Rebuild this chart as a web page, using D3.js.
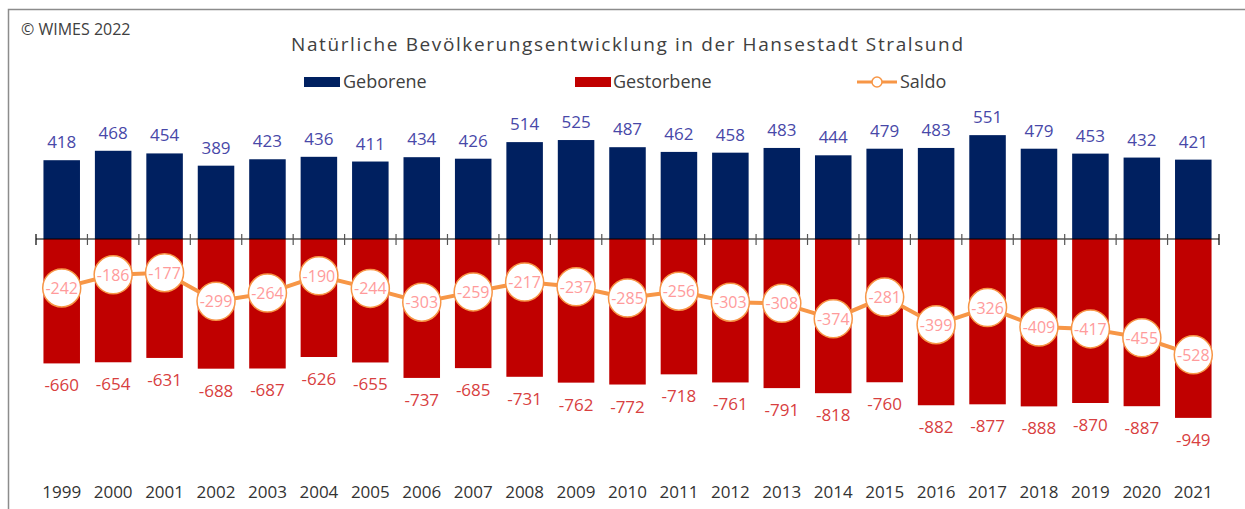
<!DOCTYPE html>
<html>
<head>
<meta charset="utf-8">
<script src="https://cdn.jsdelivr.net/npm/d3@7"></script>
<style>
  body { margin: 0; background: #fff; }
  text { font-family: "Open Sans", sans-serif; }
</style>
</head>
<body>
<div id="chart"></div>
<script>
// Natürliche Bevölkerungsentwicklung Stralsund

const years = ["1999","2000","2001","2002","2003","2004","2005","2006","2007","2008","2009","2010",
               "2011","2012","2013","2014","2015","2016","2017","2018","2019","2020","2021"];
const geborene = [418,468,454,389,423,436,411,434,426,514,525,487,462,458,483,444,479,483,551,479,453,432,421];
const gestorbene = [-660,-654,-631,-688,-687,-626,-655,-737,-685,-731,-762,-772,-718,-761,-791,-818,-760,-882,-877,-888,-870,-887,-949];
const saldo = [-242,-186,-177,-299,-264,-190,-244,-303,-259,-217,-237,-285,-256,-303,-308,-374,-281,-399,-326,-409,-417,-455,-528];

const width = 1245, height = 509;

const svg = d3.select("#chart")
    .append("svg")
    .attr("width", width)
    .attr("height", height);

// frame
svg.append("path")
    .attr("d", "M8.5,509 L8.5,9.5 L1245,9.5")
    .attr("fill", "none")
    .attr("stroke", "#8c8c8c")
    .attr("stroke-width", 1.5);

svg.append("text")
    .attr("x", 21).attr("y", 35)
    .attr("font-size", "16px")
    .attr("fill", "#404040")
    .text("© WIMES 2022");

svg.append("text")
    .attr("x", 291).attr("y", 51)
    .attr("font-size", "19px")
    .attr("fill", "#404040")
    .attr("textLength", 672)
    .attr("lengthAdjust", "spacing")
    .text("Natürliche Bevölkerungsentwicklung in der Hansestadt Stralsund");

// legend
const legend = svg.append("g");
legend.append("rect").attr("x", 304).attr("y", 77).attr("width", 36).attr("height", 10).attr("fill", "#002060");
legend.append("text").attr("x", 343).attr("y", 88).attr("font-size", "18px").attr("fill", "#404040").text("Geborene");
legend.append("rect").attr("x", 575).attr("y", 77).attr("width", 36).attr("height", 10).attr("fill", "#C00000");
legend.append("text").attr("x", 613).attr("y", 88).attr("font-size", "18px").attr("fill", "#404040").text("Gestorbene");
legend.append("line").attr("x1", 857).attr("x2", 897).attr("y1", 82).attr("y2", 82)
    .attr("stroke", "#F79646").attr("stroke-width", 3);
legend.append("circle").attr("cx", 877).attr("cy", 82).attr("r", 5)
    .attr("fill", "#fff").attr("stroke", "#F79646").attr("stroke-width", 1.5);
legend.append("text").attr("x", 900).attr("y", 88).attr("font-size", "18px").attr("fill", "#404040").text("Saldo");

// scales
const x = d3.scaleBand()
    .domain(years)
    .range([36, 1219]);

const barW = x.bandwidth() * 0.71;

const y = d3.scaleLinear()
    .domain([-1000, 600])
    .range([239 + 188.5, 239 - 113.1]);

const ySaldo = d3.scaleLinear()
    .domain([0, -600])
    .range([231.3, 231.3 + 140.4]);

const cx = i => x(years[i]) + x.bandwidth() / 2;

// bars
svg.append("g")
    .selectAll("rect")
    .data(geborene)
    .enter().append("rect")
    .attr("x", (d, i) => cx(i) - barW / 2)
    .attr("y", d => y(d))
    .attr("width", barW)
    .attr("height", d => y(0) - y(d))
    .attr("fill", "#002060");

svg.append("g")
    .selectAll("rect")
    .data(gestorbene)
    .enter().append("rect")
    .attr("x", (d, i) => cx(i) - barW / 2)
    .attr("y", y(0))
    .attr("width", barW)
    .attr("height", d => y(d) - y(0))
    .attr("fill", "#C00000");

// value labels
svg.append("g")
    .selectAll("text")
    .data(geborene)
    .enter().append("text")
    .attr("x", (d, i) => cx(i))
    .attr("y", d => y(d) - 12)
    .attr("text-anchor", "middle")
    .attr("font-size", "17px")
    .attr("fill", "#4848A8")
    .text(d => d);

svg.append("g")
    .selectAll("text")
    .data(gestorbene)
    .enter().append("text")
    .attr("x", (d, i) => cx(i))
    .attr("y", d => y(d) + 28)
    .attr("text-anchor", "middle")
    .attr("font-size", "17px")
    .attr("fill", "#D84040")
    .text(d => d);

// axis with ticks between categories
const axis = svg.append("g");
axis.append("line")
    .attr("x1", 36).attr("x2", 1219)
    .attr("y1", y(0)).attr("y2", y(0))
    .attr("stroke", "#000").attr("stroke-width", 1.2);
axis.selectAll(".tick")
    .data(years.concat(["end"]))
    .enter().append("line")
    .attr("x1", (d, i) => i < years.length ? x(d) : 1219)
    .attr("x2", (d, i) => i < years.length ? x(d) : 1219)
    .attr("y1", y(0) - 5).attr("y2", y(0) + 6)
    .attr("stroke", (d, i) => (i === 0 || i === years.length) ? "#000" : "#555")
    .attr("stroke-width", 1.2);

// saldo line
svg.append("path")
    .datum(saldo)
    .attr("d", d3.line().x((d, i) => cx(i)).y(d => ySaldo(d)))
    .attr("fill", "none")
    .attr("stroke", "#F79646")
    .attr("stroke-width", 4);

svg.append("g")
    .selectAll("circle")
    .data(saldo)
    .enter().append("circle")
    .attr("cx", (d, i) => cx(i))
    .attr("cy", d => ySaldo(d))
    .attr("r", 19)
    .attr("fill", "#fff")
    .attr("stroke", "#F79646")
    .attr("stroke-width", 1.5);

svg.append("g")
    .selectAll("text")
    .data(saldo)
    .enter().append("text")
    .attr("x", (d, i) => cx(i))
    .attr("y", d => ySaldo(d) + 6)
    .attr("text-anchor", "middle")
    .attr("font-size", "16px")
    .attr("fill", "#FF9B9B")
    .text(d => d);

// year labels
svg.append("g")
    .selectAll("text")
    .data(years)
    .enter().append("text")
    .attr("x", d => x(d) + x.bandwidth() / 2)
    .attr("y", 498)
    .attr("text-anchor", "middle")
    .attr("font-size", "17px")
    .attr("fill", "#333")
    .text(d => d);
</script>
</body>
</html>
